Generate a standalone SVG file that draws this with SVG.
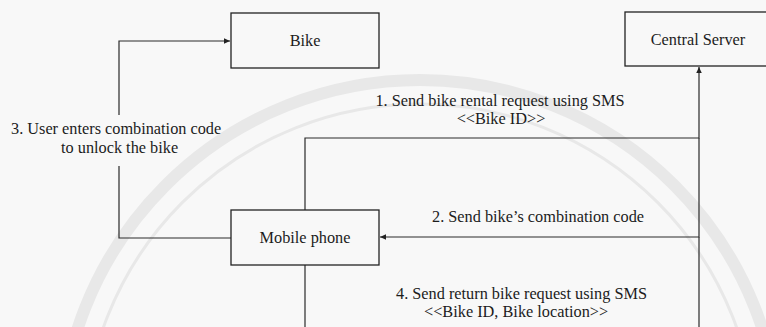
<svg xmlns="http://www.w3.org/2000/svg" width="766" height="327" viewBox="0 0 766 327">
  <style>
    .box { fill: none; stroke: #222; stroke-width: 1.3; }
    .wire { fill: none; stroke: #2a2a2a; stroke-width: 1.2; }
    .lbl { font-size: 16.3px; fill: #1c1c1c; }
    .mid { text-anchor: middle; }
    .wm { fill: none; stroke: #e8e8e8; }
  </style>
  <defs>
    <marker id="arrow" markerUnits="userSpaceOnUse" markerWidth="7" markerHeight="6" refX="6" refY="2.75" orient="auto">
      <path d="M0,0 L6,2.75 L0,5.5 z" fill="#222"/>
    </marker>
  </defs>

  <rect width="766" height="327" fill="#f8f8f8"/>

  <!-- faint background seal -->
  <g id="seal">
    <circle class="wm" cx="420" cy="440" r="360" stroke-width="12"/>
    <circle class="wm" cx="420" cy="440" r="336" stroke-width="3" stroke="#eeeeee"/>
  </g>

  <g id="connectors">
    <!-- 1: phone to server -->
    <path class="wire" d="M305,210 V138 H699 V67" marker-end="url(#arrow)"/>
    <!-- 2: server to phone -->
    <path class="wire" d="M699,138 V237 H380" marker-end="url(#arrow)"/>
    <!-- 3: user unlocks bike -->
    <path class="wire" d="M231,238 H119 V166"/>
    <path class="wire" d="M119,115 V41 H230" marker-end="url(#arrow)"/>
    <!-- 4: return request -->
    <path class="wire" d="M305,265 V327"/>
    <path class="wire" d="M699,237 V327"/>
  </g>

  <g font-family="'Liberation Serif', Tinos, 'DejaVu Serif', serif">
    <g id="bike">
      <rect class="box" x="231" y="13" width="148" height="55"/>
      <text class="lbl mid" x="305" y="46">Bike</text>
    </g>

    <g id="central-server">
      <rect class="box" x="625" y="12" width="148" height="54"/>
      <text class="lbl mid" x="698" y="45">Central Server</text>
    </g>

    <g id="mobile-phone">
      <rect class="box" x="231" y="210" width="148" height="55"/>
      <text class="lbl mid" x="305" y="243">Mobile phone</text>
    </g>

    <g id="labels">
      <text class="lbl mid" x="500" y="106">1. Send bike rental request using SMS</text>
      <text class="lbl mid" x="501" y="124">&lt;&lt;Bike ID&gt;&gt;</text>
      <text class="lbl" x="432" y="222">2. Send bike’s combination code</text>
      <text class="lbl" x="11" y="134">3. User enters combination code</text>
      <text class="lbl" x="61" y="153">to unlock the bike</text>
      <text class="lbl" x="396" y="299">4. Send return bike request using SMS</text>
      <text class="lbl" x="424" y="317">&lt;&lt;Bike ID, Bike location&gt;&gt;</text>
    </g>
  </g>
</svg>
